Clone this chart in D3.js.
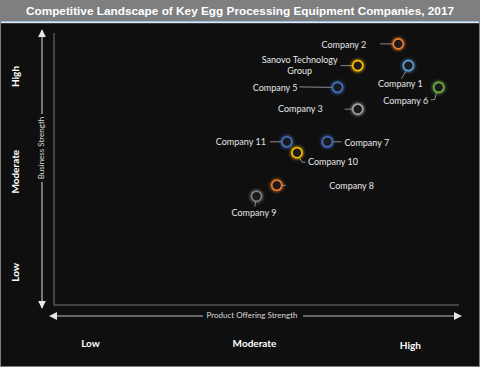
<!DOCTYPE html>
<html>
<head>
<meta charset="utf-8">
<script src="https://cdn.jsdelivr.net/npm/d3@7"></script>
<style>
  html, body { margin: 0; padding: 0; background: #fff; }
  svg { display: block; }
</style>
</head>
<body>
<svg id="chart" width="480" height="367"></svg>
<script>
// Data
const companies = ['Company 2', 'Sanovo Technology Group', 'Company 1', 'Company 6', 'Company 5',
  'Company 3', 'Company 11', 'Company 7', 'Company 10', 'Company 8', 'Company 9'];
const productStrength = [85, 75, 87.5, 95, 70, 75, 57.5, 67.5, 60, 55, 50];
const businessStrength = [96, 88, 88, 80, 80, 72, 60, 60, 56, 44, 40];
const levelLabels = ['Low', 'Moderate', 'High'];
const xLevelValues = [9, 49.5, 88];
const yLevelValues = [12, 49, 84];

// Styles
const ringColors = ['#ed7d31', '#ffc000', '#5b9bd5', '#70ad47', '#4472c4',
  '#a5a5a5', '#4472c4', '#4472c4', '#ffc000', '#ed7d31', '#7f7f7f'];

// label placement and leader points, relative to the circle
const labelLayout = {
  'Company 2': { dx: -32, dy: 1, anchor: 'end', leader: [[-18, 0], [-5, 0]] },
  'Sanovo Technology Group': { dx: -58, dy: 0, anchor: 'middle', lines: ['Sanovo Technology', 'Group'], leader: [[-17, 0], [-5, 0]] },
  'Company 1': { dx: -8, dy: 18, anchor: 'middle', leader: [[-2, 5], [-7, 13]] },
  'Company 6': { dx: -33, dy: 13, anchor: 'middle', leader: [[-2, 4], [-4, 12], [-8, 12.5]] },
  'Company 5': { dx: -40, dy: 0, anchor: 'end', leader: [[-38, -0.5], [-5, 0]] },
  'Company 3': { dx: -35, dy: 0, anchor: 'end', leader: [[-13, 0], [-5, 0]] },
  'Company 11': { dx: -21, dy: 0, anchor: 'end', leader: [[-17, 0], [-5, 0]] },
  'Company 7': { dx: 17, dy: 1.5, anchor: 'start', leader: [[5, 0], [14, 0]] },
  'Company 10': { dx: 11, dy: 9.5, anchor: 'start', leader: [[2, 4], [5, 9.5], [8.5, 9.5]] },
  'Company 8': { dx: 52.5, dy: 1, anchor: 'start', leader: [[5, 0], [9, 0]] },
  'Company 9': { dx: -2.5, dy: 17, anchor: 'middle', leader: [[-0.7, 4.5], [-1.7, 10.5]] },
};

const W = 480;
const H = 367;
const svg = d3.select('#chart');
const labelFont = 'Lato, "Open Sans", sans-serif';

// Background and frame
svg.append('rect').attr('width', W).attr('height', H).attr('fill', '#0f0f0f');
svg.append('rect').attr('width', W).attr('height', 21).attr('fill', '#7f7f7f');
svg.append('rect').attr('y', 21).attr('width', W).attr('height', 1).attr('fill', '#9dc3e6');
svg.append('rect').attr('y', 22).attr('width', W).attr('height', 1).attr('fill', '#dde8f3');
svg.append('rect').attr('y', 23).attr('width', W).attr('height', 1).attr('fill', '#3a3a3a');
svg.append('rect').attr('x', 0.5).attr('y', 0.5).attr('width', W - 1).attr('height', H - 1)
  .attr('fill', 'none').attr('stroke', '#7f7f7f');

// Title
svg.append('text')
  .attr('x', 240).attr('y', 15)
  .attr('text-anchor', 'middle')
  .style('font-family', '"Liberation Sans", Arial, sans-serif')
  .style('font-weight', 'bold')
  .style('font-size', '11.8px')
  .attr('fill', '#fff')
  .text('Competitive Landscape of Key Egg Processing Equipment Companies, 2017');

// Scales
const x = d3.scaleLinear().domain([0, 100]).range([54, 459]);
const y = d3.scaleLinear().domain([0, 100]).range([305, 33]);

// Plot frame (L shape)
svg.append('path')
  .attr('d', `M${x(0)},${y(100)}V${y(0)}H${x(100)}`)
  .attr('fill', 'none')
  .attr('stroke', '#555')
  .attr('stroke-width', 1.5);

// Arrow markers
const defs = svg.append('defs');
defs.append('marker')
  .attr('id', 'arrow')
  .attr('viewBox', '0 0 10 10')
  .attr('refX', 9).attr('refY', 5)
  .attr('markerWidth', 8).attr('markerHeight', 8)
  .attr('markerUnits', 'userSpaceOnUse')
  .attr('orient', 'auto-start-reverse')
  .append('path')
  .attr('d', 'M0,0L10,5L0,10Z')
  .attr('fill', '#e6e6e6');

const glow = defs.append('filter').attr('id', 'glow')
  .attr('x', '-100%').attr('y', '-100%').attr('width', '300%').attr('height', '300%');
glow.append('feGaussianBlur').attr('stdDeviation', 1.6);

// Axis arrows
const axisX = 42;
const axisY = 316;
svg.append('line')
  .attr('x1', axisX).attr('x2', axisX)
  .attr('y1', y(100) - 3).attr('y2', y(0) + 3)
  .attr('stroke', '#bfbfbf').attr('stroke-width', 1.2)
  .attr('marker-start', 'url(#arrow)').attr('marker-end', 'url(#arrow)');
svg.append('line')
  .attr('x1', x(0) - 4).attr('x2', x(100) + 2)
  .attr('y1', axisY).attr('y2', axisY)
  .attr('stroke', '#bfbfbf').attr('stroke-width', 1.2)
  .attr('marker-start', 'url(#arrow)').attr('marker-end', 'url(#arrow)');

// Axis titles with a gap in the arrow line
svg.append('rect').attr('x', 35).attr('y', 114).attr('width', 10).attr('height', 68).attr('fill', '#0f0f0f');
svg.append('text')
  .attr('transform', `translate(${axisX - 1},148) rotate(-90)`)
  .attr('text-anchor', 'middle')
  .attr('dy', '0.35em')
  .style('font-family', labelFont)
  .style('font-size', '8px')
  .attr('fill', '#d9d9d9')
  .text('Business Strength');

svg.append('rect').attr('x', 203).attr('y', 311).attr('width', 100).attr('height', 10).attr('fill', '#0f0f0f');
svg.append('text')
  .attr('x', 252).attr('y', axisY - 1)
  .attr('text-anchor', 'middle')
  .attr('dy', '0.35em')
  .style('font-family', labelFont)
  .style('font-size', '8px')
  .attr('fill', '#d9d9d9')
  .text('Product Offering Strength');

// Level labels along the bottom
svg.append('g')
  .selectAll('text')
  .data(levelLabels)
  .join('text')
  .attr('x', (d, i) => x(xLevelValues[i]))
  .attr('y', (d, i) => (i === 2 ? 345 : 343))
  .attr('text-anchor', 'middle')
  .attr('dy', '0.35em')
  .style('font-family', labelFont)
  .style('font-weight', 'bold')
  .style('font-size', '10px')
  .attr('fill', '#fff')
  .text((d) => d);

// Level labels along the left side
svg.append('g')
  .selectAll('text')
  .data(levelLabels)
  .join('text')
  .attr('transform', (d, i) => `translate(15,${y(yLevelValues[i])}) rotate(-90)`)
  .attr('text-anchor', 'middle')
  .attr('dy', '0.35em')
  .style('font-family', labelFont)
  .style('font-weight', 'bold')
  .style('font-size', '10px')
  .attr('fill', '#fff')
  .text((d) => d);

// Leader lines
const points = companies.map((name, i) => ({
  name,
  px: x(productStrength[i]),
  py: y(businessStrength[i]),
  color: ringColors[i],
  layout: labelLayout[name],
}));

svg.append('g')
  .selectAll('path')
  .data(points)
  .join('path')
  .attr('d', (d) => d3.line()(d.layout.leader.map(([dx, dy]) => [d.px + dx, d.py + dy])))
  .attr('fill', 'none')
  .attr('stroke', '#8c8c8c')
  .attr('stroke-width', 1);

// Circles
const marks = svg.append('g')
  .selectAll('g')
  .data(points)
  .join('g')
  .attr('transform', (d) => `translate(${d.px},${d.py})`);

marks.append('circle')
  .attr('r', 5)
  .attr('fill', 'none')
  .attr('stroke', (d) => d.color)
  .attr('stroke-width', 3)
  .attr('opacity', 0.8)
  .attr('filter', 'url(#glow)');

marks.append('circle')
  .attr('r', 5)
  .attr('fill', '#1a1a1a')
  .attr('stroke', (d) => d.color)
  .attr('stroke-width', 1.6);

// Labels
const labels = svg.append('g')
  .selectAll('text')
  .data(points)
  .join('text')
  .attr('x', (d) => d.px + d.layout.dx)
  .attr('y', (d) => d.py + d.layout.dy)
  .attr('text-anchor', (d) => d.layout.anchor)
  .attr('dy', '0.35em')
  .style('font-family', labelFont)
  .style('font-size', '9px')
  .attr('fill', '#e6e6e6');

labels.each(function (d) {
  const t = d3.select(this);
  if (d.layout.lines) {
    d.layout.lines.forEach((line, i) => {
      t.append('tspan')
        .attr('x', d.px + d.layout.dx)
        .attr('dy', i === 0 ? '-0.3em' : '1.2em')
        .text(line);
    });
  } else {
    t.text(d.name);
  }
});
</script>
</body>
</html>
